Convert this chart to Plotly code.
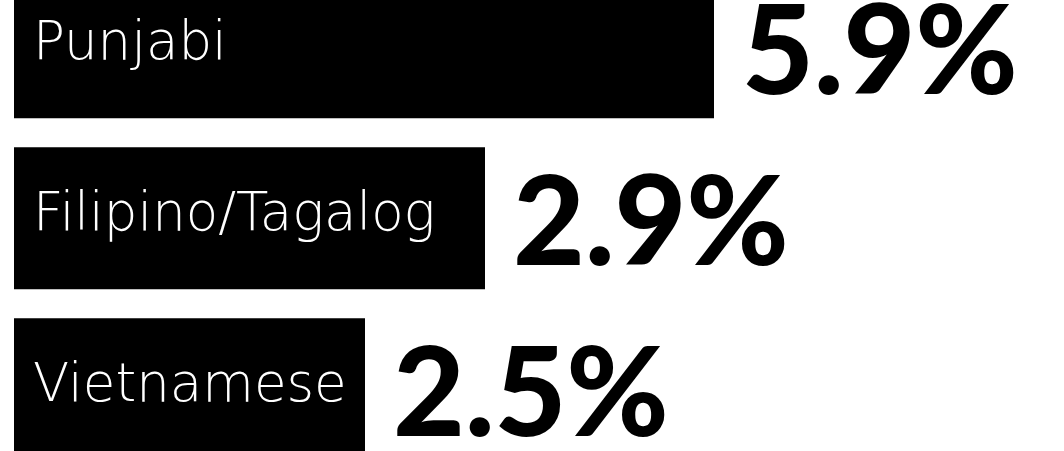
import plotly.graph_objects as go

languages = ["Punjabi", "Filipino/Tagalog", "Vietnamese"]
share_pct = [5.9, 2.9, 2.5]
share_labels = ["5.9%", "2.9%", "2.5%"]
# bar extents as drawn in the infographic (not proportional to share)
bar_extent = [7.00, 4.71, 3.51]

fig = go.Figure()
fig.add_trace(go.Bar(
    x=bar_extent,
    y=languages,
    orientation="h",
    marker=dict(color="#000000", line=dict(width=0)),
    width=0.83,
    hoverinfo="skip",
))

for lang, ext, lab in zip(languages, bar_extent, share_labels):
    fig.add_annotation(
        x=0, y=lang, xref="x", yref="y",
        text=lang, showarrow=False,
        xanchor="left", yanchor="middle", xshift=17, yshift=7,
        font=dict(family="DejaVu Sans", size=53, color="#ffffff", weight=200),
    )
    fig.add_annotation(
        x=ext, y=lang, xref="x", yref="y",
        text=lab, showarrow=False,
        xanchor="left", yanchor="middle", xshift=26, yshift=1,
        font=dict(family="Lato", size=124, color="#000000", weight=900),
    )

fig.update_layout(
    width=1064, height=451,
    margin=dict(l=0, r=0, t=0, b=0),
    paper_bgcolor="#ffffff", plot_bgcolor="#ffffff",
    showlegend=False,
    xaxis=dict(range=[-0.14, 10.5], visible=False, fixedrange=True),
    yaxis=dict(range=[2.3626, -0.2778], visible=False, fixedrange=True,
               categoryorder="array", categoryarray=languages),
)

fig.write_html(
    "out.html",
    config={"displayModeBar": False, "staticPlot": True},
    post_script="document.body.style.margin='0';document.body.style.overflow='hidden';",
)
